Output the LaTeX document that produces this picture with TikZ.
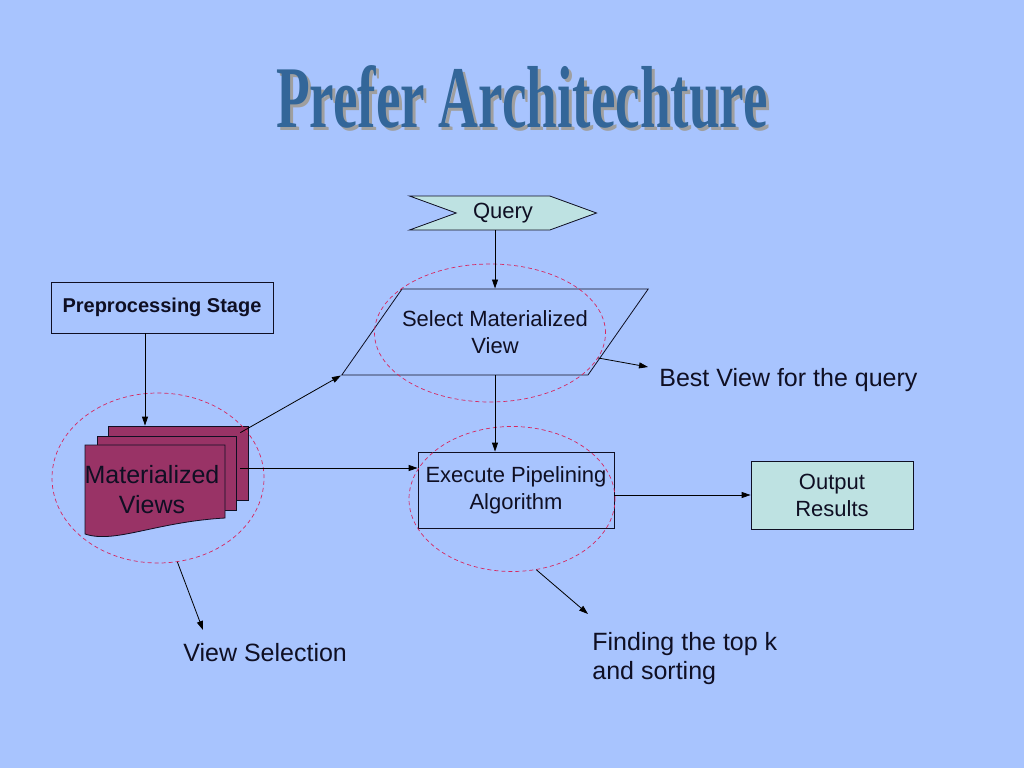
\documentclass[tikz,border=0pt]{standalone}
\usepackage{fontspec}
\setmainfont{Liberation Sans}
\newfontfamily\titlefont{Liberation Serif}
\usetikzlibrary{shapes.geometric,shapes.symbols,arrows.meta}
\definecolor{slide}{RGB}{168,196,254}
\definecolor{paleteal}{RGB}{190,226,226}
\definecolor{plum}{RGB}{153,51,102}
\definecolor{steel}{RGB}{51,102,153}
\definecolor{ringred}{RGB}{214,40,96}
\definecolor{ink}{RGB}{15,15,35}

\begin{document}
\begin{tikzpicture}[x=1pt,y=-1pt, line width=0.8pt,
    >={Triangle[length=9pt,width=6pt]},
    every node/.style={text=ink, font=\fontsize{22}{27}\selectfont},
    box/.style={draw=ink, inner sep=0pt, align=center},
    page/.style={draw=ink, fill=plum, minimum width=140pt, minimum height=74pt},
    ring/.style={ellipse, draw=ringred, dash pattern=on 4pt off 3pt, line width=0.7pt, inner sep=0pt},
    remark/.style={font=\fontsize{25}{29}\selectfont, inner sep=0pt, align=left, anchor=west}]

    \fill[slide] (0,0) rectangle (1024,768);
    \useasboundingbox (0,0) rectangle (1024,768);

    \node[text=gray!75, anchor=base] (titleshadow) at (525,130)
      {\scalebox{0.627}[1]{\titlefont\bfseries\fontsize{88}{88}\selectfont Prefer Architechture}};
    \node[text=steel, anchor=base] (title) at (522,127)
      {\scalebox{0.627}[1]{\titlefont\bfseries\fontsize{88}{88}\selectfont Prefer Architechture}};

    \node[box, signal, signal to=east, signal from=west, signal pointer angle=40,
      fill=paleteal, minimum width=187pt, minimum height=34pt] (query) at (503,213) {Query};
    \node[box, trapezium, trapezium left angle=55, trapezium right angle=125,
      trapezium stretches body, inner ysep=21.5pt, minimum width=306pt] (select) at (495,332)
      {Select Materialized\\View};
    \node[box, minimum width=196pt, minimum height=76pt] (exec) at (516,490) {Execute Pipelining\\Algorithm};
    \node[box, fill=paleteal, minimum width=162pt, minimum height=68pt] (out) at (832,495) {Output\\Results};
    \node[box, minimum width=222pt, minimum height=51pt, font=\fontsize{20}{24}\selectfont\bfseries]
      (pre) at (162,307.5) {Preprocessing Stage};

    \node[page] (pageback) at (178,463) {};
    \node[page, minimum width=139pt] (pagemid) at (166.5,473) {};
    \filldraw[draw=ink, fill=plum] (85,445) -- (225,445) -- (225,518)
      .. controls (155,522) and (115,544) .. (85,534) -- cycle;
    \node[font=\fontsize{25}{30}\selectfont, align=center] (views) at (152,490) {Materialized\\Views};

    \node[ring, minimum width=212pt, minimum height=170pt] (viewring) at (158,478) {};
    \node[ring, minimum width=231pt, minimum height=138pt] (selring) at (490,333) {};
    \node[ring, minimum width=206pt, minimum height=145pt] (execring) at (512,499) {};

    \node[remark] (best) at (659,380) {Best View for the query};
    \node[remark] (vsel) at (183,653) {View Selection};
    \node[remark] (find) at (592,659) {Finding the top k\\and sorting};

    \coordinate (besttip) at (648,367);
    \coordinate (vseltip) at (203,630);
    \coordinate (findtip) at (588,614);
    \coordinate (mvup) at ([xshift=-8pt,yshift=-7pt]pageback.north east);
    \coordinate (mvout) at ([xshift=-8pt,yshift=-5pt]pageback.east);

    \draw[->] (query.south -| select.north) -- (select.north);
    \draw[->] (select.south) -- (select.south |- exec.north);
    \draw[->] ([xshift=-17pt]pre.south) -- ([xshift=-17pt]pre.south |- pageback.north);
    \draw[->] (mvup) -- (select.bottom left corner);
    \draw[->] (mvout) -- (mvout -| exec.west);
    \draw[->] (exec.east |- out.west) -- (out.west);
    \draw[->] (selring.347) -- (besttip);
    \draw[->] (viewring.283) -- (vseltip);
    \draw[->] (execring.289) -- (findtip);

\end{tikzpicture}
\end{document}
